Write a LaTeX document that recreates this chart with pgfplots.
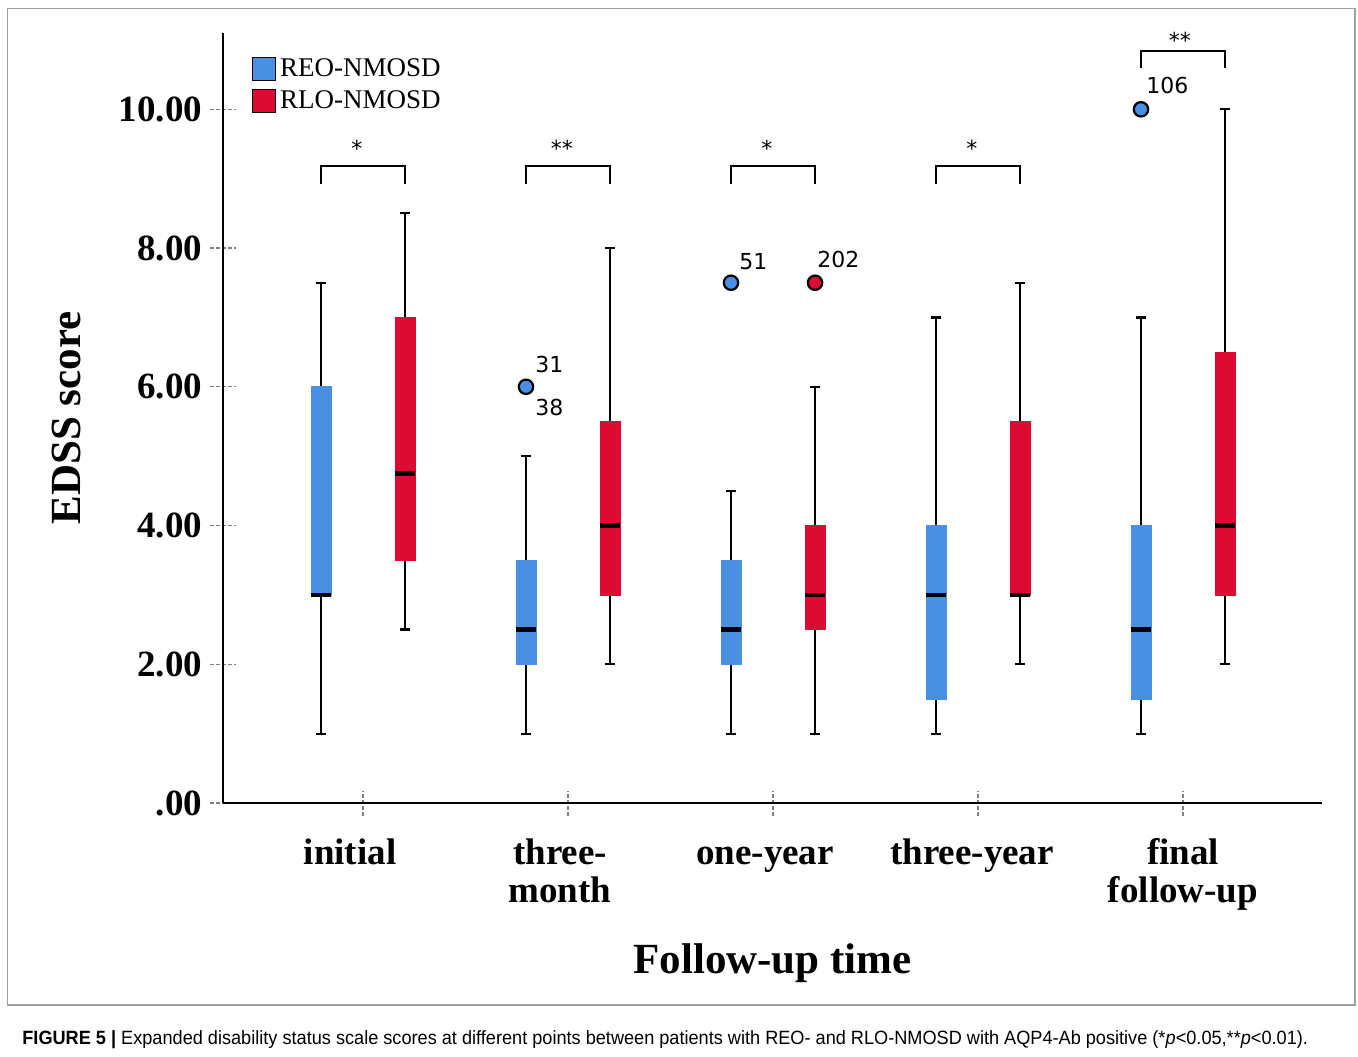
\documentclass[border=0pt]{standalone}
\usepackage{pgfplots}
\pgfplotsset{compat=1.18}
\usepgfplotslibrary{statistics}
\usepackage{fontspec}
\setmainfont{Liberation Serif}
\newfontfamily\numf{DejaVu Sans}
\newfontfamily\capf[FakeStretch=0.945]{Liberation Sans}
\definecolor{reoblue}{RGB}{74,144,226}
\definecolor{rlored}{RGB}{221,10,52}
\pgfplotsset{
 bx/.style={forget plot, boxplot/draw direction=y, boxplot/box extend=0.098, boxplot/whisker extend=0.05,
   boxplot/every box/.style={fill=#1, draw=#1, line width=0.4pt},
   boxplot/every whisker/.style={black, line width=1.1pt},
   boxplot/every median/.style={black, line width=2.2pt},
   mark=*, mark size=3.6pt, mark options={fill=#1, draw=black, line width=1.1pt, solid}},
}
\begin{document}
\begin{tikzpicture}
\path[use as bounding box] (0,0) rectangle (679pt,-528pt);
\draw[gray!75, line width=0.75pt] (3.75pt,-4.25pt) rectangle (677.5pt,-502.5pt);
\begin{axis}[at={(111.5pt,-401.5pt)}, anchor=south west, scale only axis,
  width=549.5pt, height=385pt, xmin=0.317, xmax=5.678, ymin=0, ymax=11.1,
  clip=false,
  axis lines=left, axis line style={-, line width=1.3pt},
  xtick={1,2,3,4,5},
  xticklabels={{\strut initial\hspace*{13pt}},{\strut three-\hspace*{8pt}\\month\hspace*{8pt}},{\strut one-year\hspace*{8pt}},{\strut three-year\hspace*{6pt}},{\strut final\\follow-up}},
  ytick={0,2,4,6,8,10},
  yticklabels={.00,2.00,4.00,6.00,8.00,10.00},
  tick align=center, major tick length=12.5pt,
  tick style={gray, dash pattern=on 2pt off 1pt, line width=0.6pt},
  ticklabel style={font=\bfseries\fontsize{18.5}{19}\selectfont},
  yticklabel style={inner sep=0pt, xshift=-4pt},
  xticklabel style={align=center, inner sep=0pt, yshift=-11pt},
  xlabel={Follow-up time}, ylabel={EDSS score},
  label style={font=\bfseries\fontsize{21.5}{22}\selectfont},
  xlabel style={at={(axis description cs:0.5,-0.2208)}, anchor=base, inner sep=0pt},
  ylabel style={at={(axis description cs:-0.130,0.5)}, anchor=base, inner sep=0pt},
  legend style={at={(axis description cs:0,1)}, anchor=north west, xshift=14.5pt, yshift=-10.5pt,
    draw=none, fill=none, inner sep=0pt, font=\fontsize{13.5}{14}\selectfont, row sep=1.8pt},
  legend cell align=left,
  legend image code/.code={\fill[#1] (0pt,-5.75pt) rectangle (11.5pt,5.75pt);},
]
\addlegendimage{fill=reoblue}
\addlegendentry{REO-NMOSD}
\addlegendimage{fill=rlored}
\addlegendentry{RLO-NMOSD}
% initial
\addplot[bx=reoblue, boxplot prepared={draw position=0.795, lower whisker=1, lower quartile=3, median=3, upper quartile=6, upper whisker=7.5}] coordinates {};
\addplot[bx=rlored, boxplot prepared={draw position=1.205, lower whisker=2.5, lower quartile=3.5, median=4.75, upper quartile=7, upper whisker=8.5}] coordinates {};
% three-month
\addplot[bx=reoblue, boxplot prepared={draw position=1.795, lower whisker=1, lower quartile=2, median=2.5, upper quartile=3.5, upper whisker=5}] table[row sep=\\, y index=0] {6\\};
\addplot[bx=rlored, boxplot prepared={draw position=2.205, lower whisker=2, lower quartile=3, median=4, upper quartile=5.5, upper whisker=8}] coordinates {};
% one-year
\addplot[bx=reoblue, boxplot prepared={draw position=2.795, lower whisker=1, lower quartile=2, median=2.5, upper quartile=3.5, upper whisker=4.5}] table[row sep=\\, y index=0] {7.5\\};
\addplot[bx=rlored, boxplot prepared={draw position=3.205, lower whisker=1, lower quartile=2.5, median=3, upper quartile=4, upper whisker=6}] table[row sep=\\, y index=0] {7.5\\};
% three-year
\addplot[bx=reoblue, boxplot prepared={draw position=3.795, lower whisker=1, lower quartile=1.5, median=3, upper quartile=4, upper whisker=7}] coordinates {};
\addplot[bx=rlored, boxplot prepared={draw position=4.205, lower whisker=2, lower quartile=3, median=3, upper quartile=5.5, upper whisker=7.5}] coordinates {};
% final
\addplot[bx=reoblue, boxplot prepared={draw position=4.795, lower whisker=1, lower quartile=1.5, median=2.5, upper quartile=4, upper whisker=7}] table[row sep=\\, y index=0] {10\\};
\addplot[bx=rlored, boxplot prepared={draw position=5.205, lower whisker=2, lower quartile=3, median=4, upper quartile=6.5, upper whisker=10}] coordinates {};
% outlier labels
\begin{scope}[every node/.style={inner sep=0pt, font=\numf\fontsize{11}{12}\selectfont}]
\node[anchor=base west, xshift=4.5pt, yshift=7pt] at (axis cs:1.795,6) {31};
\node[anchor=north west, xshift=4.5pt, yshift=-6pt] at (axis cs:1.795,6) {38};
\node[anchor=base west, xshift=4pt, yshift=6.5pt] at (axis cs:2.795,7.5) {51};
\node[anchor=base west, xshift=1pt, yshift=7.5pt] at (axis cs:3.205,7.5) {202};
\node[anchor=base west, xshift=2.5pt, yshift=8pt] at (axis cs:4.795,10) {106};
% significance brackets
\draw[black, line width=1.1pt] (axis cs:0.795,8.92) -- (axis cs:0.795,9.18) -- (axis cs:1.205,9.18) -- (axis cs:1.205,8.92);
\node at (axis cs:0.97,9.44) {*};
\draw[black, line width=1.1pt] (axis cs:1.795,8.92) -- (axis cs:1.795,9.18) -- (axis cs:2.205,9.18) -- (axis cs:2.205,8.92);
\node at (axis cs:1.97,9.44) {**};
\draw[black, line width=1.1pt] (axis cs:2.795,8.92) -- (axis cs:2.795,9.18) -- (axis cs:3.205,9.18) -- (axis cs:3.205,8.92);
\node at (axis cs:2.97,9.44) {*};
\draw[black, line width=1.1pt] (axis cs:3.795,8.92) -- (axis cs:3.795,9.18) -- (axis cs:4.205,9.18) -- (axis cs:4.205,8.92);
\node at (axis cs:3.97,9.44) {*};
\draw[black, line width=1.1pt] (axis cs:4.795,10.60) -- (axis cs:4.795,10.84) -- (axis cs:5.205,10.84) -- (axis cs:5.205,10.60);
\node at (axis cs:4.985,11.0) {**};
\end{scope}
\end{axis}
\node[anchor=base west, inner sep=0pt] at (11pt,-522pt) {\capf\fontsize{9.6}{10}\selectfont\textbf{FIGURE 5 |} Expanded disability status scale scores at different points between patients with REO- and RLO-NMOSD with AQP4-Ab positive (*\textit{p}<0.05,**\textit{p}<0.01).};
\end{tikzpicture}
\end{document}
